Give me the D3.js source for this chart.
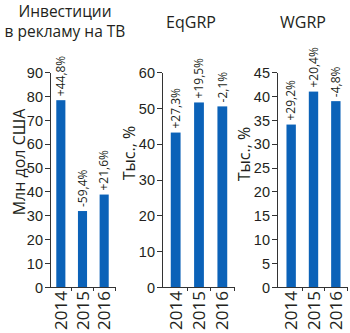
<!DOCTYPE html>
<html>
<head>
<meta charset="utf-8">
<script src="https://cdn.jsdelivr.net/npm/d3@7"></script>
<style>
  html, body { margin: 0; padding: 0; background: #fff; }
  svg { display: block; font-family: "Open Sans", Roboto, sans-serif; }
  .axis path, .axis line { stroke: #333; stroke-width: 1; shape-rendering: crispEdges; }
  .axis text { fill: #231f20; }
</style>
</head>
<body>
<svg id="chart" width="350" height="333"></svg>
<script>
// Years on the category axis
const years = ["2014", "2015", "2016"];

// TV advertising investment, million USD, with year-on-year change
const tvInvest = [78.2, 31.8, 38.7];
const tvInvestChange = ["+44,8%", "-59,4%", "+21,6%"];
const tvTicks = [0, 10, 20, 30, 40, 50, 60, 70, 80, 90];

// EqGRP, thousands, with year-on-year change
const eqGrp = [43.1, 51.5, 50.4];
const eqGrpChange = ["+27,3%", "+19,5%", "-2,1%"];
const eqTicks = [0, 10, 20, 30, 40, 50, 60];

// WGRP, thousands, with year-on-year change
const wGrp = [34.0, 40.9, 38.9];
const wGrpChange = ["+29,2%", "+20,4%", "-4,8%"];
const wTicks = [0, 5, 10, 15, 20, 25, 30, 35, 40, 45];

const BAR = "#0b62b8";
const INK = "#231f20";

const svg = d3.select("#chart");
const yTop = 72, yBottom = 287;

const panels = [
  { values: tvInvest, changes: tvInvestChange, ticks: tvTicks,
    axisX: 50, bandRange: [50, 115], unit: "Млн дол США", unitX: 25, unitY: 162,
    title: ["Инвестиции", "в рекламу на ТВ"], titleX: 65, titleY: [17, 37] },
  { values: eqGrp, changes: eqGrpChange, ticks: eqTicks,
    axisX: 162, bandRange: [164, 234], unit: "Тыс., %", unitX: 135, unitY: 153,
    title: ["EqGRP"], titleX: 191, titleY: [28] },
  { values: wGrp, changes: wGrpChange, ticks: wTicks,
    axisX: 277, bandRange: [280, 347], unit: "Тыс., %", unitX: 250, unitY: 154,
    title: ["WGRP"], titleX: 303, titleY: [28] }
];

panels.forEach(p => {
  const g = svg.append("g");
  const maxTick = p.ticks[p.ticks.length - 1];

  const y = d3.scaleLinear().domain([0, maxTick]).range([yBottom, yTop]);
  const x = d3.scaleBand().domain(years).range(p.bandRange).paddingInner(0.58).paddingOuter(0.29);
  const step = x.step();

  // Title
  const t = g.append("text")
    .attr("text-anchor", "middle")
    .attr("fill", INK)
    .style("font-size", p.title.length === 1 ? "16px" : "15.5px");
  p.title.forEach((line, i) => {
    t.append("tspan").attr("x", p.titleX).attr("y", p.titleY[i]).text(line);
  });

  // Value axis
  g.append("g")
    .attr("class", "axis")
    .attr("transform", `translate(${p.axisX},0)`)
    .call(d3.axisLeft(y).tickValues(p.ticks).tickSize(5).tickPadding(2).tickSizeOuter(0))
    .call(a => a.selectAll("text").style("font-size", "14.5px").attr("dy", "0.36em"));

  // Unit label
  g.append("text")
    .attr("transform", `translate(${p.unitX},${p.unitY}) rotate(-90)`)
    .attr("text-anchor", "middle")
    .attr("fill", INK)
    .style("font-size", "16px")
    .text(p.unit);

  // Category axis with dividers between years
  const xAxis = g.append("g").attr("class", "axis");
  xAxis.append("line")
    .attr("x1", p.axisX).attr("x2", p.bandRange[1])
    .attr("y1", yBottom).attr("y2", yBottom);
  years.forEach((yr, i) => {
    const edge = p.bandRange[0] + step * (i + 1);
    xAxis.append("line")
      .attr("x1", edge).attr("x2", edge)
      .attr("y1", yBottom).attr("y2", yBottom + 4);
    xAxis.append("text")
      .attr("transform", `translate(${x(yr) + x.bandwidth() / 2},${yBottom + 4}) rotate(-90)`)
      .attr("text-anchor", "end")
      .attr("dy", "0.36em")
      .style("font-size", "17px")
      .text(yr);
  });

  // Bars
  g.selectAll("rect.bar")
    .data(p.values)
    .join("rect")
    .attr("class", "bar")
    .attr("x", (d, i) => x(years[i]))
    .attr("width", x.bandwidth())
    .attr("y", d => y(d))
    .attr("height", d => y(0) - y(d))
    .attr("fill", BAR);

  // Change labels above bars
  g.selectAll("text.chg")
    .data(p.values)
    .join("text")
    .attr("class", "chg")
    .attr("transform", (d, i) => `translate(${x(years[i]) + x.bandwidth() / 2},${y(d) - 4}) rotate(-90)`)
    .attr("text-anchor", "start")
    .attr("dy", "0.36em")
    .attr("fill", INK)
    .style("font-size", "12px")
    .text((d, i) => p.changes[i]);
});
</script>
</body>
</html>
